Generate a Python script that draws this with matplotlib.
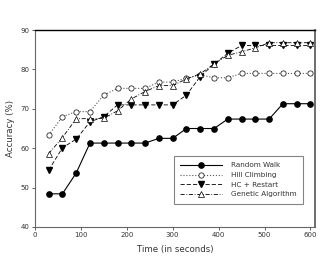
import matplotlib.pyplot as plt
import numpy as np

time_s = [30, 60, 90, 120, 150, 180, 210, 240, 270, 300,
          330, 360, 390, 420, 450, 480, 510, 540, 570, 600]
random_walk = [48.4, 48.4, 53.7, 61.3, 61.3, 61.3, 61.3, 61.3, 62.5, 62.5,
               65.0, 65.0, 65.0, 67.4, 67.4, 67.4, 67.4, 71.3, 71.3, 71.3]
hill_climbing = [63.3, 68.0, 69.3, 69.3, 73.5, 75.2, 75.2, 75.2, 76.8, 76.8,
                 77.8, 78.6, 77.9, 77.9, 79.0, 79.0, 79.0, 79.0, 79.0, 79.0]
hc_restart = [54.4, 60.1, 62.3, 66.7, 68.0, 71.0, 71.0, 71.0, 71.0, 71.0,
              73.5, 78.2, 81.4, 84.1, 86.1, 86.1, 86.1, 86.1, 86.1, 86.1]
genetic = [58.6, 62.7, 67.5, 67.5, 67.6, 69.5, 72.5, 74.4, 75.9, 75.9,
           77.6, 78.9, 81.4, 83.6, 84.5, 85.5, 86.8, 86.8, 86.8, 86.8]

plt.rcParams.update({"font.family": "DejaVu Sans", "font.size": 5.5})

fig = plt.figure(figsize=(3.32, 2.62), dpi=100)
ax = fig.add_axes([0.105, 0.134, 0.844, 0.751])

ax.plot(time_s, random_walk, color="black", linestyle="-", linewidth=0.8,
        marker="o", markersize=3.8, markerfacecolor="black", label="Random Walk")
ax.plot(time_s, hill_climbing, color="#555555", linestyle=":", linewidth=0.8,
        marker="o", markersize=3.8, markerfacecolor="white",
        markeredgecolor="black", markeredgewidth=0.5, label="Hill Climbing")
ax.plot(time_s, hc_restart, color="black", linestyle=(0, (5, 2.5)), linewidth=0.6,
        marker="v", markersize=3.8, markerfacecolor="black", label="HC + Restart")
ax.plot(time_s, genetic, color="black", linestyle=(0, (5, 2, 1, 2)), linewidth=0.6,
        marker="^", markersize=3.8, markerfacecolor="white",
        markeredgecolor="black", markeredgewidth=0.5, label="Genetic Algorithm")

ax.set_xlim(0, 610)
ax.set_ylim(40, 90)
ax.set_xticks(np.arange(0, 601, 100))
ax.set_yticks(np.arange(40, 91, 10))
ax.tick_params(direction="out", length=2, width=0.6, colors="#444444",
               labelsize=5, labelcolor="#333333", pad=2)
for side in ["left", "bottom"]:
    ax.spines[side].set_color("#666666")
    ax.spines[side].set_linewidth(0.8)
ax.spines["top"].set_color("black")
ax.spines["top"].set_linewidth(1.0)
ax.spines["right"].set_color("#555555")
ax.spines["right"].set_linewidth(1.2)

ax.set_xlabel("Time (in seconds)", fontsize=6.2, color="#333333", labelpad=5)
ax.set_ylabel("Accuracy (%)", fontsize=6.2, color="#333333", labelpad=4)

leg = ax.legend(loc="lower right", bbox_to_anchor=(0.957, 0.117), fontsize=5.2,
                frameon=True, fancybox=False, handlelength=5.8, borderpad=0.9,
                labelspacing=0.5, handletextpad=1.2, borderaxespad=0)
leg.get_frame().set_edgecolor("#666666")
leg.get_frame().set_linewidth(0.8)
for t in leg.get_texts():
    t.set_color("#333333")

fig.savefig("out.png", dpi=100)
